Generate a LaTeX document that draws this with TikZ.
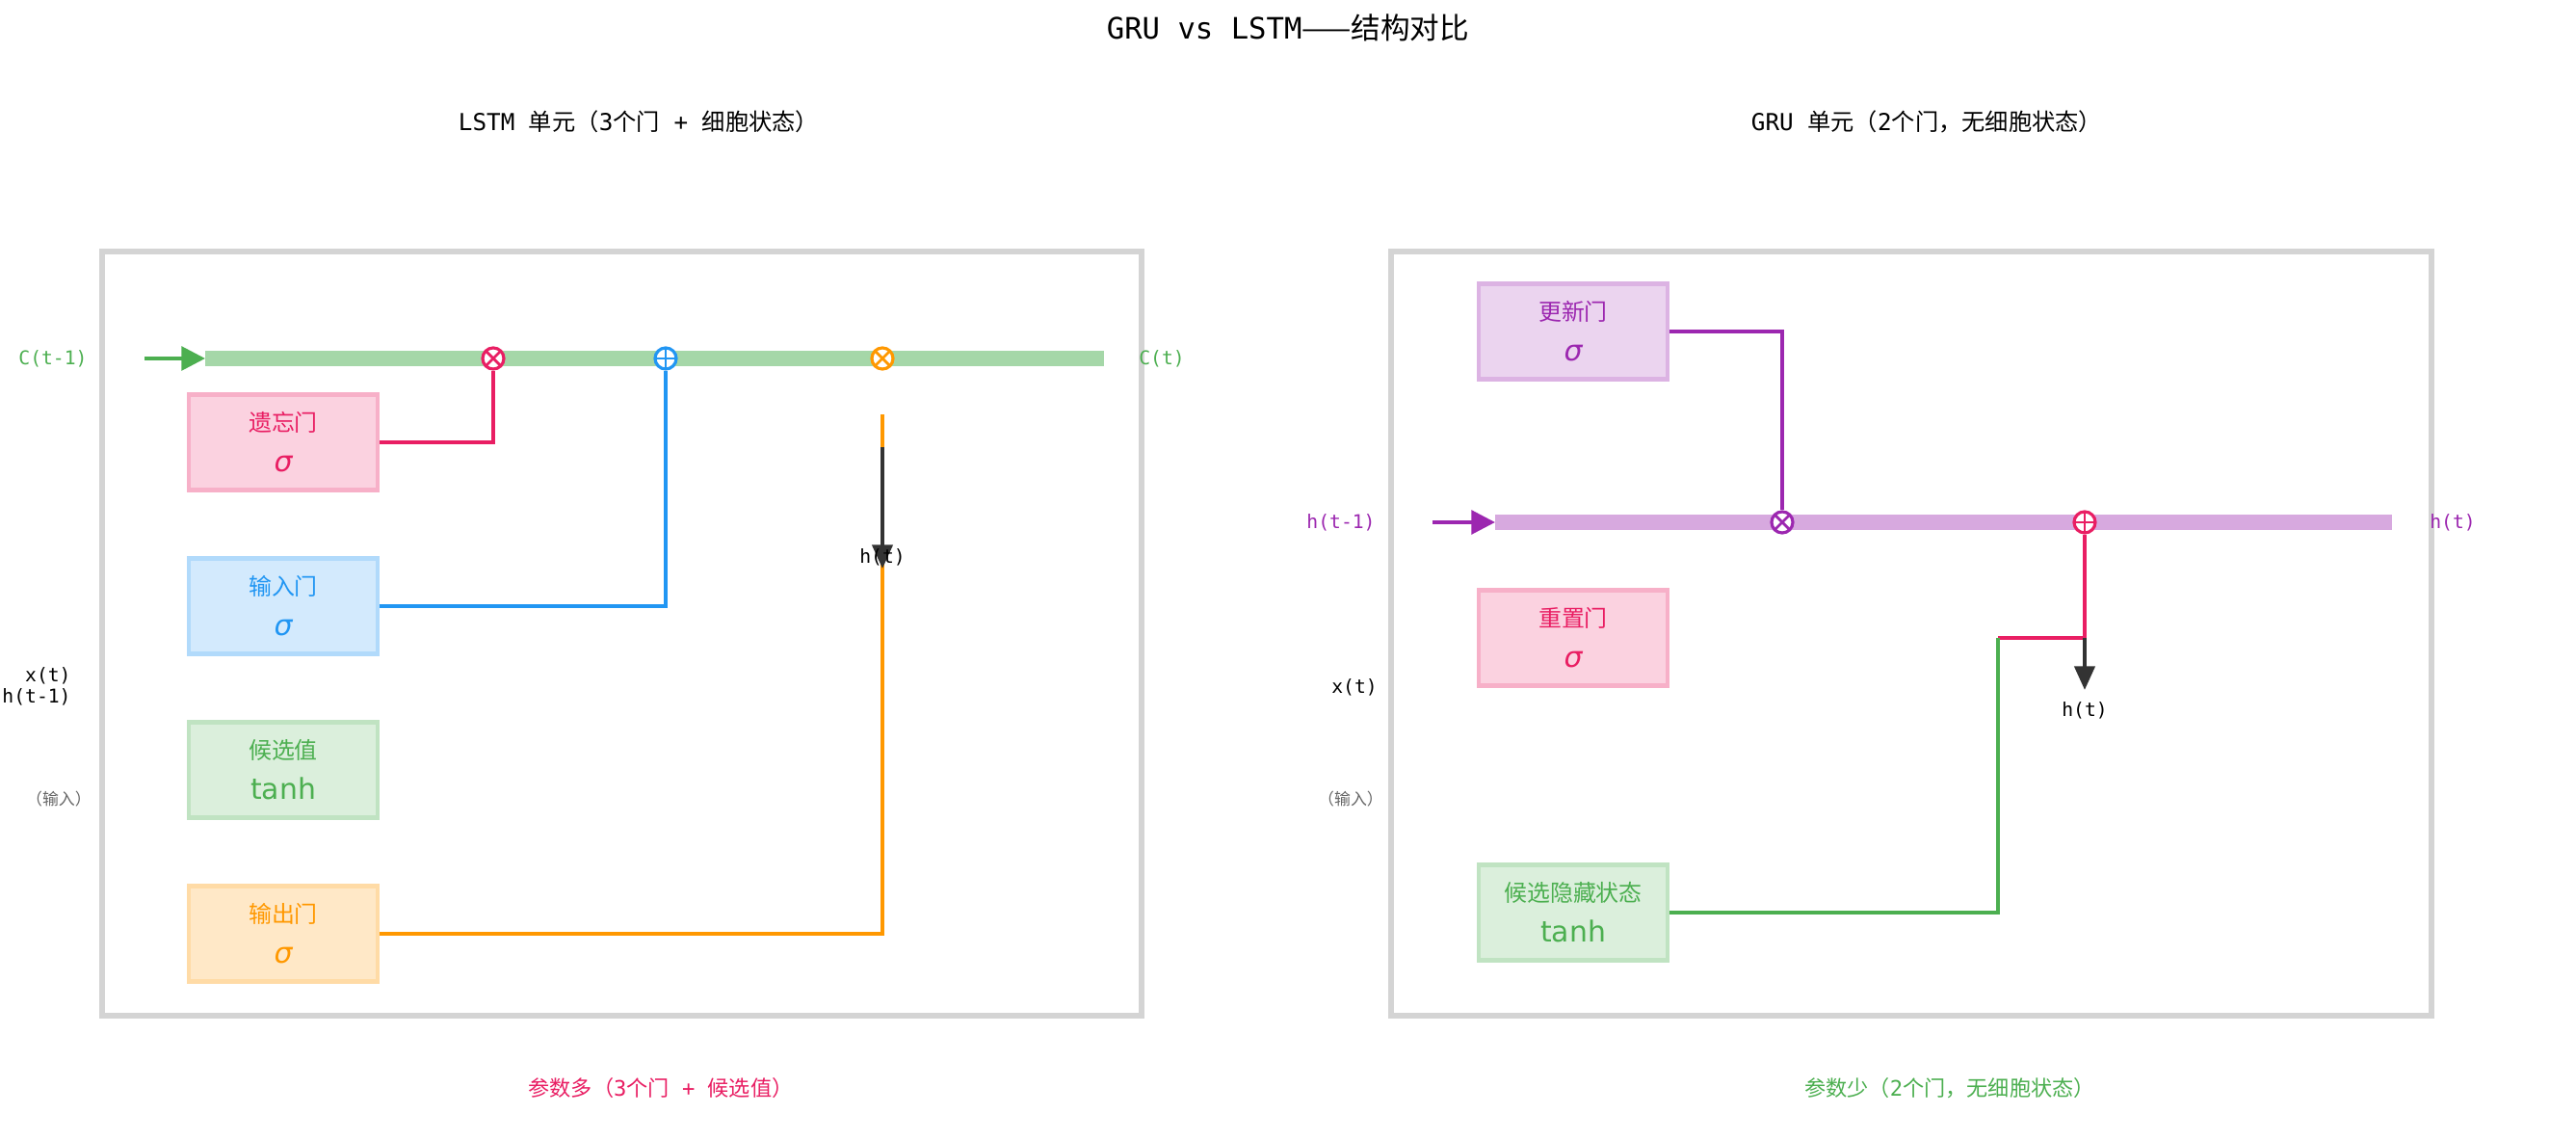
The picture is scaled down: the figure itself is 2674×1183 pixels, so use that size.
\documentclass[tikz,border=0pt]{standalone}
\usepackage{fontspec}
\setmainfont{DejaVu Sans Mono}
\newfontfamily\cjk{Noto Sans CJK SC}
\newfontfamily\sigfont{DejaVu Sans}
\usetikzlibrary{arrows.meta,positioning}
\definecolor{cpink}{HTML}{E91E63}
\definecolor{cblue}{HTML}{2196F3}
\definecolor{cgreen}{HTML}{4CAF50}
\definecolor{corange}{HTML}{FF9800}
\definecolor{cpurple}{HTML}{9C27B0}
\definecolor{cdark}{HTML}{333333}
\tikzset{
  gatebox/.style 2 args={draw=#1!35,line width=1.2pt,fill=#2,minimum width=1.96cm,minimum height=0.99cm,text=#1,align=center,font=\fontsize{6.8}{12}\selectfont},
  opx/.style={circle,draw=#1,fill=white,line width=0.9pt,minimum size=0.22cm,inner sep=0pt,
    path picture={\draw[#1,line width=0.8pt] (path picture bounding box.north west)--(path picture bounding box.south east)
      (path picture bounding box.north east)--(path picture bounding box.south west);}},
  opp/.style={circle,draw=#1,fill=white,line width=0.9pt,minimum size=0.22cm,inner sep=0pt,
    path picture={\draw[#1,line width=0.8pt] (path picture bounding box.north)--(path picture bounding box.south)
      (path picture bounding box.east)--(path picture bounding box.west);}},
  wire/.style={line width=1.1pt},
  lbl/.style={font=\fontsize{5.6}{6.6}\selectfont},
}
\newcommand{\gsig}{{\sigfont\itshape\fontsize{8.5}{12}\selectfont σ}}
\newcommand{\gtanh}{{\sigfont\fontsize{8.5}{12}\selectfont tanh}}
\begin{document}
\begin{tikzpicture}[x=0.01cm,y=-0.01cm]
\useasboundingbox[fill=white] (0,0) rectangle (2674,1183);
% titles
\node (title) at (1337,29) {\fontsize{8.7}{11}\selectfont GRU vs LSTM{\cjk ——结构对比}};
\node (lstmt) at (663,126) {\fontsize{6.9}{10}\selectfont LSTM {\cjk 单元（}3{\cjk 个门} + {\cjk 细胞状态）}};
\node (grut) at (2000,126) {\fontsize{6.9}{10}\selectfont GRU {\cjk 单元（}2{\cjk 个门，无细胞状态）}};
\node[text=cpink] (lstmb) at (686,1129) {\fontsize{6.3}{9}\selectfont{\cjk 参数多（}3{\cjk 个门} + {\cjk 候选值）}};
\node[text=cgreen] (grub) at (2024,1129) {\fontsize{6.3}{9}\selectfont{\cjk 参数少（}2{\cjk 个门，无细胞状态）}};

% LSTM
\draw[black!17,line width=1.5pt] (106,261) rectangle (1185,1054);
\node[gatebox={cpink}{cpink!20}] (fg) at (294,459) {{\cjk 遗忘门}\\\gsig};
\node[gatebox={cblue}{cblue!20}] (ig) at (294,629) {{\cjk 输入门}\\\gsig};
\node[gatebox={cgreen}{cgreen!20}] (cv) at (294,799) {{\cjk 候选值}\\\gtanh};
\node[gatebox={corange}{corange!22}] (og) at (294,969) {{\cjk 输出门}\\\gsig};
\coordinate (cin) at (150,372);
\coordinate (cs) at (213,372);
\coordinate (ce) at (1146,372);
\draw[cgreen!50,line width=4.5pt] (cs) -- (ce);
\draw[cgreen,wire,-{Triangle[length=7pt,width=7pt]}] (cin) -- (cs);
\node[opx=cpink] (m1) at (512,372) {};
\node[opp=cblue] (a1) at (691,372) {};
\node[opx=corange] (m2) at (916,372) {};
\draw[cpink,wire] (fg.east) -| (m1);
\draw[cblue,wire] (ig.east) -| (a1);
\coordinate (otop) at (916,430);
\draw[corange,wire] (og.east) -| (otop);
\coordinate (hs) at (916,464);
\coordinate (he) at (916,590);
\draw[cdark,wire,-{Triangle[length=7pt,width=6pt]}] (hs) -- (he);
\node[lbl] (hl) at (916,578) {h(t)};
\node[lbl,text=cgreen] (cl) at (55,372) {C(t-1)};
\node[lbl,text=cgreen] (cr) at (1206,372) {C(t)};
\node[lbl,anchor=east] (xl) at (86,701) {x(t)};
\node[lbl,anchor=east] (hpl) at (86,723) {h(t-1)};
\node[lbl,text=black!60,font=\fontsize{4.8}{7}\selectfont] (inl) at (61,829) {{\cjk （输入）}};

% GRU
\draw[black!17,line width=1.5pt] (1444,261) rectangle (2524,1054);
\node[gatebox={cpurple}{cpurple!20}] (ug) at (1633,344) {{\cjk 更新门}\\\gsig};
\node[gatebox={cpink}{cpink!20}] (rg) at (1633,662) {{\cjk 重置门}\\\gsig};
\node[gatebox={cgreen}{cgreen!20}] (ch) at (1633,947) {{\cjk 候选隐藏状态}\\\gtanh};
\coordinate (hin) at (1487,542);
\coordinate (hst) at (1552,542);
\coordinate (hen) at (2483,542);
\draw[cpurple!40,line width=4.5pt] (hst) -- (hen);
\draw[cpurple,wire,-{Triangle[length=7pt,width=7pt]}] (hin) -- (hst);
\node[opx=cpurple] (m3) at (1850,542) {};
\node[opp=cpink] (a2) at (2164,542) {};
\draw[cpurple,wire] (ug.east) -| (m3);
\coordinate (jn) at (2164,662);
\coordinate (jw) at (2074,662);
\draw[cpink,wire] (a2) -- (jn) -- (jw);
\draw[cgreen,wire] (ch.east) -| (jw);
\coordinate (ho) at (2164,716);
\draw[cdark,wire,-{Triangle[length=7pt,width=6pt]}] (jn) -- (ho);
\node[lbl] (hol) at (2164,737) {h(t)};
\node[lbl,text=cpurple] (hl2) at (1392,542) {h(t-1)};
\node[lbl,text=cpurple] (hr2) at (2546,542) {h(t)};
\node[lbl] (xl2) at (1406,713) {x(t)};
\node[lbl,text=black!60,font=\fontsize{4.8}{7}\selectfont] (inl2) at (1402,829) {{\cjk （输入）}};
\end{tikzpicture}
\end{document}
